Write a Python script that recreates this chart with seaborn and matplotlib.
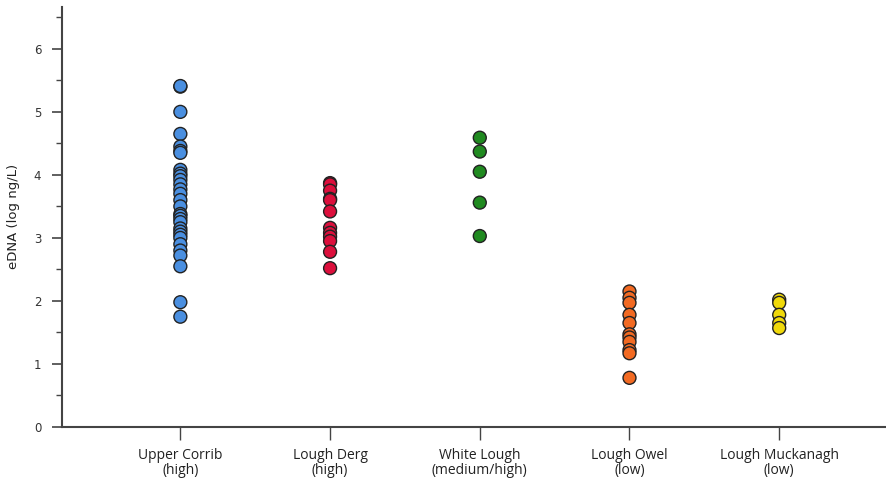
import matplotlib
matplotlib.use("Agg")
import matplotlib.pyplot as plt
import pandas as pd
import seaborn as sns
from matplotlib.ticker import MultipleLocator

# values (log ng/L)
upper_corrib = [5.40, 5.41, 5.00, 4.65, 4.45, 4.38, 4.35, 4.08, 4.02, 3.98, 3.92, 3.85,
                3.77, 3.70, 3.60, 3.50, 3.38, 3.35, 3.30, 3.25, 3.15, 3.10, 3.05, 3.00,
                2.90, 2.80, 2.72, 2.55, 1.98, 1.75]
lough_derg = [3.87, 3.85, 3.75, 3.62, 3.60, 3.42, 3.16, 3.08, 3.02, 2.95, 2.78, 2.52]
white_lough = [4.59, 4.37, 4.05, 3.56, 3.03]
lough_owel = [2.15, 2.05, 1.97, 1.78, 1.65, 1.47, 1.42, 1.35, 1.22, 1.17, 0.78]
lough_muckanagh = [2.02, 1.97, 1.78, 1.65, 1.57]

categories = ["Upper Corrib\n(high)", "Lough Derg\n(high)", "White Lough\n(medium/high)",
              "Lough Owel\n(low)", "Lough Muckanagh\n(low)"]
colors = ["#4a8fe0", "#dc0f3c", "#208a20", "#f26a22", "#f0d90a"]


def build_frame() -> pd.DataFrame:
    series = [upper_corrib, lough_derg, white_lough, lough_owel, lough_muckanagh]
    rows = []
    for cat, vals in zip(categories, series):
        for v in vals:
            rows.append({"Lake": cat, "eDNA": v})
    return pd.DataFrame(rows)


def main() -> None:
    sns.set_theme(style="white")
    plt.rcParams["font.family"] = ["DejaVu Sans"]

    df = build_frame()

    fig = plt.figure(figsize=(8.87, 4.86), dpi=100)
    ax = fig.add_axes([0.070, 0.1214, 0.93, 0.865])

    sns.stripplot(data=df, x="Lake", y="eDNA", hue="Lake", order=categories,
                  hue_order=categories, palette=colors, jitter=False, size=9.3,
                  linewidth=1.0, edgecolor="#222222", legend=False, ax=ax)

    ax.set_xlim(-0.79, 4.72)
    ax.set_ylim(0, 6.67)
    ax.yaxis.set_major_locator(MultipleLocator(1))
    ax.yaxis.set_minor_locator(MultipleLocator(0.5))

    for side in ["top", "right"]:
        ax.spines[side].set_visible(False)
    for side in ["left", "bottom"]:
        ax.spines[side].set_color("#444444")
        ax.spines[side].set_linewidth(1.5)

    ax.tick_params(axis="y", which="major", direction="out", length=7, width=1.2,
                   color="#444444", labelsize=8.5, labelcolor="#333333", left=True, pad=8)
    ax.tick_params(axis="y", which="minor", direction="out", length=4, width=1.0,
                   color="#444444", left=True)
    ax.tick_params(axis="x", which="major", direction="out", length=9, width=1.0,
                   color="#444444", labelsize=10, labelcolor="#222222", bottom=True, pad=6)
    for lbl in ax.get_xticklabels():
        lbl.set_family(["Open Sans", "DejaVu Sans"])
        lbl.set_linespacing(1.0)

    ax.set_xlabel("")
    ax.set_ylabel("eDNA (log ng/L)", fontsize=9.5, color="#222222", labelpad=10)

    fig.savefig("out.png", dpi=100)
    plt.close(fig)


if __name__ == "__main__":
    main()
